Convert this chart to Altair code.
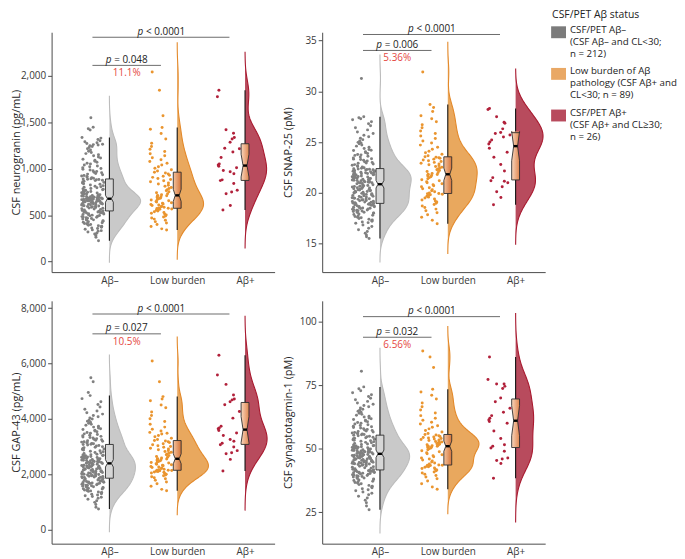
import math
import json
import numpy as np
import pandas as pd
import altair as alt

FONT = "Open Sans"
GROUPS = ["Aβ–", "Low burden", "Aβ+"]
POINT_COLORS = ["#808080", "#ea952f", "#b1203a"]
VIOLIN_FILLS = ["#c9c9c9", "#e9a85e", "#b84b5d"]
VIOLIN_LINES = ["#bcbcbc", "#e3892a", "#a8192f"]
BOX_FILLS = [["#d6d6d6", "#d6d6d6"], ["#f3c39e", "#d57439"], ["#f8d6bd", "#e08650"]]
PCT_COLOR = "#e5483f"
LEGEND_TITLE = "CSF/PET Aβ status"
LEGEND_LABELS = [
    "CSF/PET Aβ–\n(CSF Aβ– and CL<30;\nn = 212)",
    "Low burden of Aβ\npathology (CSF Aβ+ and\nCL<30; n = 89)",
    "CSF/PET Aβ+\n(CSF Aβ+ and CL≥30;\nn = 26)",
]
LEGEND_SWATCHES = ["#7b7b7b", "#e9a865", "#b84b5d"]

# ---------------- neurogranin (pg/mL) ----------------
NG_NEG = [225, 262, 281, 296, 305, 318, 326, 333, 341, 349, 356, 362, 369, 375, 381, 386, 392, 398, 404, 409,
          414, 419, 424, 429, 434, 439, 444, 449, 454, 459, 463, 467, 471, 476, 480, 484, 488, 492, 496, 500,
          504, 508, 512, 516, 519, 522, 525, 528, 531, 534, 537, 540, 543,
          546, 551, 556, 561, 566, 570, 574, 578, 582, 586, 590, 593, 596, 599, 602, 605, 608, 611, 614, 617,
          620, 622, 624, 626, 628, 630, 632, 634, 636, 638, 640, 642, 644, 646, 648, 650, 652, 654, 656, 658,
          660, 662, 663, 664, 665, 666, 667, 668, 669, 670, 672, 674, 676,
          678, 680, 682, 684, 686, 688, 690, 692, 694, 696, 698, 700, 703, 706, 709, 712, 715, 718, 721, 724,
          727, 730, 734, 738, 742, 746, 750, 754, 758, 763, 768, 773, 778, 783, 788, 794, 800, 806, 812, 818,
          825, 832, 839, 846, 853, 860, 866, 872, 877, 881, 884, 887, 889,
          893, 898, 904, 910, 916, 922, 928, 935, 942, 949, 956, 963, 971, 979, 987, 995, 1003, 1012, 1021, 1030,
          1040, 1050, 1060, 1070, 1081, 1092, 1103, 1115, 1127, 1139, 1151, 1163, 1176, 1189, 1202, 1215, 1228,
          1240, 1248, 1255, 1260, 1265, 1272, 1280, 1290, 1302, 1315, 1330, 1336, 1418, 1432, 1448, 1550]
NG_LOW = [339, 352, 378, 398, 415, 430, 444, 457, 469, 480, 491, 501, 511, 520, 529, 537, 545, 552, 558, 563, 567, 571,
          574,
          577, 584, 590, 597, 603, 609, 615, 621, 627, 634, 641, 648, 655, 662, 669, 676, 683, 690, 697, 704, 709,
          713,
          720, 731, 742, 753, 764, 775, 787, 799, 811, 823, 835, 847, 859, 871, 883, 895, 907, 919, 931, 943, 953,
          963,
          975, 990, 1005, 1022, 1040, 1058, 1078, 1098, 1118, 1140, 1162, 1186, 1210, 1240, 1275, 1320, 1380, 1425,
          1444, 1572, 1847, 2043]
NG_POS = [556, 603, 731, 749, 767, 840, 872, 880, 946, 967, 980, 1010, 1028, 1040, 1052, 1120, 1180, 1215, 1222,
          1285, 1320, 1337, 1383, 1420, 1775, 1847]

# ---------------- SNAP-25 (pM) ----------------
SN_NEG = [15.5, 15.68, 15.85, 16.02, 16.2, 16.36, 16.52, 16.68, 16.84, 17.0,
          17.07, 17.14, 17.2, 17.27, 17.34, 17.4, 17.47, 17.54, 17.6, 17.67, 17.73, 17.8, 17.86, 17.93, 18.0,
          18.03, 18.07, 18.1, 18.14, 18.17, 18.21, 18.24, 18.28, 18.31, 18.35, 18.38, 18.42, 18.45, 18.49, 18.52,
          18.56, 18.59, 18.63, 18.66, 18.7, 18.73, 18.77, 18.8, 18.84, 18.87, 18.9, 18.93, 18.95,
          18.97, 19.01, 19.04, 19.08, 19.11, 19.15, 19.18, 19.22, 19.25, 19.29, 19.32, 19.36, 19.39, 19.43, 19.46,
          19.5, 19.53, 19.57, 19.6, 19.64, 19.67, 19.71, 19.74, 19.78, 19.81, 19.85, 19.88, 19.92, 19.95, 19.99,
          20.02, 20.06, 20.09, 20.13, 20.16, 20.2, 20.23, 20.27, 20.3, 20.34, 20.37, 20.41, 20.44, 20.48, 20.51,
          20.55, 20.58, 20.62, 20.65, 20.69, 20.72, 20.76, 20.8,
          20.9, 20.93, 20.96, 20.99, 21.02, 21.05, 21.08, 21.1, 21.13, 21.16, 21.19, 21.22, 21.25, 21.27, 21.3,
          21.33, 21.36, 21.39, 21.42, 21.44, 21.47, 21.5, 21.53, 21.56, 21.59, 21.61, 21.64, 21.67, 21.7, 21.73,
          21.76, 21.78, 21.81, 21.84, 21.87, 21.9, 21.93, 21.95, 21.98, 22.01, 22.04, 22.07, 22.1, 22.12, 22.15,
          22.18, 22.21, 22.24, 22.27, 22.29, 22.32, 22.35, 22.38,
          22.42, 22.48, 22.54, 22.6, 22.66, 22.72, 22.78, 22.85, 22.92, 22.95, 22.99, 23.06, 23.13, 23.2, 23.28,
          23.32, 23.36, 23.44, 23.52, 23.6, 23.69, 23.74, 23.78, 23.87, 23.96, 24.06, 24.16, 24.2, 24.26, 24.37,
          24.48, 24.6, 24.72, 24.84, 24.9, 24.97, 25.1, 25.24, 25.38, 25.53, 25.68, 25.84, 26.0, 26.2, 26.4, 26.6,
          26.8, 27.0, 27.2, 27.3, 27.4, 27.5, 31.25]
SN_LOW = [16.95, 17.3, 17.6, 17.85, 18.05, 18.25, 18.4, 18.55, 18.7, 18.85, 18.98, 19.1, 19.2, 19.3, 19.4, 19.5,
          19.58, 19.66, 19.74, 19.81, 19.87, 19.92,
          19.94,
          20.0, 20.1, 20.2, 20.3, 20.4, 20.5, 20.6, 20.7, 20.8, 20.9, 21.0, 21.1, 21.2, 21.3, 21.4, 21.5, 21.58,
          21.65, 21.72, 21.77, 21.81,
          21.83,
          21.9, 22.0, 22.1, 22.2, 22.28, 22.36, 22.44, 22.52, 22.6, 22.68, 22.76, 22.84, 22.92, 23.0, 23.08, 23.16,
          23.24, 23.32, 23.4, 23.46, 23.51,
          23.55,
          23.65, 23.8, 23.95, 24.1, 24.3, 24.5, 24.7, 24.9, 25.1, 25.35, 25.6, 25.85, 26.1, 26.4, 26.7, 27.0, 27.3,
          27.6, 28.0, 28.4, 28.7, 31.9]
SN_POS = [18.83, 19.55, 20.1, 20.6, 21.0, 21.15, 21.2, 21.5, 22.15, 22.8, 23.5, 24.0, 24.4, 24.8, 25.0, 25.2,
          25.5, 25.7, 25.85, 25.95, 26.3, 26.85, 26.95, 27.5, 28.2, 28.3]

# ---------------- GAP-43 (pg/mL) ----------------
GA_NEG = [742, 800, 905, 980, 1040, 1090, 1130, 1165, 1195, 1222, 1248, 1272, 1295, 1317, 1338, 1358, 1377, 1395,
          1412, 1428, 1444, 1459, 1474, 1488, 1502, 1516, 1529, 1542, 1555, 1567, 1579, 1591, 1603, 1614, 1625,
          1636, 1647, 1658, 1668, 1678, 1688, 1698, 1708, 1718, 1728, 1738, 1748, 1758, 1768, 1788, 1808, 1828, 1848,
          1856, 1866, 1876, 1886, 1896, 1906, 1916, 1926, 1936, 1946, 1956, 1966, 1976, 1986, 1996, 2006, 2016,
          2026, 2036, 2046, 2056, 2066, 2076, 2086, 2096, 2106, 2116, 2126, 2136, 2146, 2156, 2166, 2176, 2186,
          2196, 2206, 2216, 2226, 2236, 2246, 2256, 2266, 2276, 2286, 2296, 2306, 2316, 2326, 2336, 2346, 2356,
          2370, 2385,
          2395, 2404, 2413, 2422, 2431, 2440, 2449, 2458, 2467, 2476, 2485, 2494, 2503, 2512, 2521, 2530, 2539,
          2548, 2557, 2566, 2575, 2584, 2593, 2602, 2611, 2620, 2629, 2638, 2647, 2656, 2665, 2674, 2683, 2692,
          2701, 2722, 2743, 2764, 2785, 2806, 2827, 2848, 2869, 2890, 2911, 2932, 2953, 2974, 2995, 3016, 3037,
          3054, 3071,
          3080, 3095, 3110, 3126, 3142, 3158, 3175, 3192, 3210, 3228, 3246, 3265, 3284, 3304, 3324, 3345, 3366,
          3388, 3410, 3433, 3456, 3480, 3505, 3530, 3556, 3583, 3611, 3640, 3670, 3700, 3732, 3765, 3800, 3836,
          3873, 3911, 3950, 3990, 4032, 4076, 4122, 4170, 4220, 4280, 4350, 4430, 4520, 4620, 4730, 4839, 4950,
          5340, 5484]
GA_LOW = [1398, 1450, 1560, 1650, 1720, 1780, 1830, 1870, 1905, 1940, 1970, 2000, 2025, 2045, 2065, 2080, 2095,
          2105, 2115, 2124, 2132, 2137,
          2140,
          2160, 2180, 2200, 2220, 2240, 2260, 2280, 2300, 2320, 2340, 2360, 2380, 2400, 2420, 2440, 2460, 2480,
          2500, 2520, 2535, 2548,
          2556,
          2580, 2610, 2640, 2670, 2700, 2730, 2760, 2790, 2820, 2850, 2880, 2910, 2940, 2970, 3000, 3030, 3060,
          3100, 3140, 3175, 3200,
          3215,
          3250, 3300, 3350, 3400, 3450, 3480, 3510, 3560, 3620, 3700, 3800, 3900, 4000, 4120, 4250, 4400, 4500,
          4650, 4720, 4803, 5341, 6093]
GA_POS = [2115, 2534, 2735, 2771, 2850, 2980, 3060, 3120, 3190, 3250, 3400, 3488, 3580, 3640, 3668, 3728, 4025,
          4265, 4505, 4620, 4685, 4720, 4863, 5245, 5581, 6297]

# ---------------- synaptotagmin-1 (pM) ----------------
SY_NEG = [26.0, 27.5, 28.8, 29.8, 30.6, 31.3, 31.9, 32.5, 33.0, 33.5, 33.9, 34.3, 34.7, 35.0, 35.3, 35.6, 35.9,
          36.2, 36.5, 36.75, 37.0, 37.25, 37.5, 37.7, 37.9, 38.1, 38.3, 38.5, 38.7, 38.9, 39.05, 39.2, 39.35, 39.5,
          39.65, 39.8, 39.95, 40.1, 40.25, 40.4, 40.5, 40.6, 40.7, 40.8, 40.9, 41.0, 41.1, 41.2, 41.3, 41.38,
          41.45, 41.52, 41.58,
          41.7, 41.9, 42.1, 42.3, 42.5, 42.7, 42.9, 43.1, 43.3, 43.5,
          43.7, 43.8, 43.9, 44.0, 44.1, 44.2, 44.3, 44.4, 44.5, 44.6, 44.7, 44.8, 44.9, 45.0, 45.1, 45.2, 45.3,
          45.4, 45.5, 45.6, 45.7, 45.8, 45.9, 46.0, 46.1, 46.2, 46.3, 46.4, 46.5, 46.6, 46.7, 46.8, 46.9, 47.0,
          47.1, 47.2, 47.3, 47.4, 47.5, 47.6, 47.7, 47.8, 47.9,
          48.1, 48.2, 48.3, 48.4, 48.5, 48.6, 48.7, 48.8, 48.9, 49.0, 49.1, 49.2, 49.3, 49.4, 49.5, 49.6, 49.7,
          49.8, 49.9, 50.0, 50.1, 50.2, 50.3, 50.4, 50.5, 50.6, 50.7, 50.8, 50.9, 51.0, 51.1, 51.2, 51.3,
          51.5, 51.7, 51.9, 52.1, 52.3, 52.5, 52.7, 52.9, 53.1, 53.3, 53.5, 53.7, 53.9, 54.1, 54.3, 54.5, 54.7,
          54.9, 55.1, 55.3,
          55.45, 55.6, 55.75, 55.9, 56.05, 56.2, 56.4, 56.6, 56.8, 57.0, 57.2, 57.4, 57.6, 57.85, 58.1, 58.35,
          58.6, 58.85, 59.1, 59.4, 59.7, 60.0, 60.3, 60.6, 60.9, 61.2, 61.5, 61.8, 62.1, 62.45, 62.8, 63.15, 63.5,
          63.9, 64.3, 64.7, 65.1, 65.5, 66.0, 66.5, 67.0, 67.5, 68.0, 68.6, 69.2, 69.8, 70.5, 71.2, 72.0, 72.8,
          73.6, 74.3, 80.4]
SY_LOW = [34.1, 35.0, 36.2, 37.3, 38.2, 38.9, 39.5, 40.0, 40.5, 40.9, 41.3, 41.6, 41.9, 42.2, 42.45, 42.7, 42.9,
          43.1, 43.25, 43.38, 43.48, 43.55,
          43.6,
          44.0, 44.4, 44.8, 45.2, 45.6, 46.0, 46.4, 46.8, 47.2, 47.6, 48.0, 48.4, 48.8, 49.2, 49.6, 49.95, 50.25,
          50.5, 50.7, 50.85, 50.95,
          51.0,
          51.2, 51.4, 51.6, 51.8, 52.0, 52.2, 52.4, 52.6, 52.8, 53.0, 53.2, 53.4, 53.6, 53.8, 54.0, 54.2, 54.4,
          54.6, 54.8, 55.1, 55.4,
          55.6,
          56.0, 56.6, 57.2, 57.8, 58.4, 59.0, 59.7, 60.4, 61.2, 62.0, 63.0, 64.0, 65.2, 66.5, 68.0, 69.5, 71.0,
          72.3, 73.4, 81.9, 86.0, 88.4]
SY_POS = [38.4, 44.2, 45.4, 46.0, 46.4, 49.0, 50.3, 51.0, 51.6, 54.0, 57.0, 60.0, 60.7, 61.3, 62.0, 63.0, 64.3,
          65.9, 68.5, 69.9, 73.7, 74.5, 75.4, 75.4, 77.2, 86.0]

PANELS = [
    dict(title="CSF neurogranin (pg/mL)", data=[NG_NEG, NG_LOW, NG_POS], domain=[-114, 2471],
         ticks=[0, 500, 1000, 1500, 2000], height=242, title_x=-30,
         brackets=[(2417, "< 0.0001", ""), (2114, "= 0.048", "11.1%")]),
    dict(title="CSF SNAP-25 (pM)", data=[SN_NEG, SN_LOW, SN_POS], domain=[12.2, 35.81],
         ticks=[15, 20, 25, 30, 35], height=242, title_x=-29,
         brackets=[(35.59, "< 0.0001", ""), (34.02, "= 0.006", "5.36%")]),
    dict(title="CSF GAP-43 (pg/mL)", data=[GA_NEG, GA_LOW, GA_POS], domain=[-513, 8265],
         ticks=[0, 2000, 4000, 6000, 8000], height=245, title_x=-30,
         brackets=[(7789, "< 0.0001", ""), (7072, "= 0.027", "10.5%")]),
    dict(title="CSF synaptotagmin-1 (pM)", data=[SY_NEG, SY_LOW, SY_POS], domain=[12.7, 108.1],
         ticks=[25, 50, 75, 100], height=245, title_x=-29,
         brackets=[(101.9, "< 0.0001", ""), (93.8, "= 0.032", "6.56%")]),
]

PANEL_W = 225
X_DOMAIN = [0.148, 3.436]
PX_PER_UNIT = PANEL_W / (X_DOMAIN[1] - X_DOMAIN[0])
VIOLIN_MAX = 0.46
BOX_HALF = 0.058
BRACKET_START = 0.75
BRACKET_ENDS = [2.77, 1.76]
LABEL_EXPR = json.dumps([""] + GROUPS, ensure_ascii=False) + "[datum.value]"
JITTER_EXPR = "datum.pos - 0.08 - 0.33 * ((abs(sin(datum.rn * 78.233 + datum.pos)) * 43758.5453) % 1)"
AXIS_GRAY = "#4a4a4a"
LEGEND_X = PANEL_W + 6      # legend sits to the right of the top-right panel
LEGEND_STEP = 42


def kde(vals):
    x = np.asarray(vals, dtype=float)
    n = len(x)
    q1, q3 = np.percentile(x, [25, 75])
    bw = 0.9 * min(x.std(ddof=1), (q3 - q1) / 1.34) * n ** -0.2
    grid = np.linspace(x.min() - 3 * bw, x.max() + 3 * bw, 220)
    d = np.exp(-0.5 * ((grid[:, None] - x[None, :]) / bw) ** 2).sum(axis=1) / (n * bw * math.sqrt(2 * math.pi))
    return grid, d


def box_stats(vals):
    x = np.asarray(vals, dtype=float)
    q1, med, q3 = np.percentile(x, [25, 50, 75])
    iqr = q3 - q1
    lo = x[x >= q1 - 1.5 * iqr].min()
    hi = x[x <= q3 + 1.5 * iqr].max()
    notch = 1.58 * iqr / math.sqrt(len(x))
    return q1, med, q3, lo, hi, notch


def legend_layers():
    out = []
    for i, (lab, col) in enumerate(zip(LEGEND_LABELS, LEGEND_SWATCHES)):
        ys = -6 + i * LEGEND_STEP
        d = pd.DataFrame({"label": [lab]})
        out.append(alt.Chart(d).mark_rect(color=col).encode(
            x=alt.value(LEGEND_X), x2=alt.value(LEGEND_X + 15), y=alt.value(ys), y2=alt.value(ys + 12)))
        out.append(alt.Chart(d).mark_text(font=FONT, fontSize=9.8, align="left", baseline="top", lineBreak="\n",
                                          lineHeight=12, color="#222222").encode(
            x=alt.value(LEGEND_X + 19), y=alt.value(ys - 1.5), text="label:N"))
    out.append(alt.Chart(pd.DataFrame({"t": [LEGEND_TITLE]})).mark_text(
        font=FONT, fontSize=10.5, align="left", baseline="middle", color="#222222").encode(
        x=alt.value(LEGEND_X + 1), y=alt.value(-17), text="t:N"))
    return out


def make_panel(cfg, with_legend=False):
    h = cfg["height"]
    xs = alt.Scale(domain=X_DOMAIN, nice=False, zero=False)
    ys = alt.Scale(domain=cfg["domain"], nice=False, zero=False)
    xaxis = alt.Axis(values=[1, 2, 3], labelExpr=LABEL_EXPR, ticks=False, title=None, labelPadding=3)
    yaxis = alt.Axis(values=cfg["ticks"], format=",.0f", title=cfg["title"], titleX=cfg["title_x"],
                     titleY=h / 2, titleBaseline="bottom", tickSize=4, labelPadding=2)

    def X(f):
        return alt.X(f, type="quantitative", scale=xs, axis=xaxis, title=None)

    def Y(f):
        return alt.Y(f, type="quantitative", scale=ys, axis=yaxis, title=cfg["title"])

    dens = [kde(v) for v in cfg["data"]]
    kmax = max(d.max() for _, d in dens)
    layers = []
    for gi, vals in enumerate(cfg["data"]):
        pos = gi + 1
        grid, d = dens[gi]
        vdf = pd.DataFrame({"v": grid, "x0": float(pos), "x1": pos + d / kmax * VIOLIN_MAX})
        layers.append(alt.Chart(vdf).mark_area(orient="horizontal", color=VIOLIN_FILLS[gi], opacity=1).encode(
            y=Y("v"), x=X("x0"), x2="x1:Q"))
        layers.append(alt.Chart(vdf).mark_line(color=VIOLIN_LINES[gi], strokeWidth=1.1).encode(
            y=Y("v"), x=X("x1"), order=alt.Order("v:Q")))
    for gi, vals in enumerate(cfg["data"]):
        pos = gi + 1
        pdf = pd.DataFrame({"v": vals, "pos": float(pos)})
        layers.append(alt.Chart(pdf).transform_window(rn="row_number()").transform_calculate(
            jx=JITTER_EXPR
        ).mark_circle(size=9, opacity=1, color=POINT_COLORS[gi]).encode(x=X("jx"), y=Y("v")))
    for gi, vals in enumerate(cfg["data"]):
        pos = gi + 1
        q1, med, q3, lo, hi, notch = box_stats(vals)
        sdf = pd.DataFrame({"pos": [float(pos)], "lo": [lo], "hi": [hi], "med": [med],
                            "ml": [pos - BOX_HALF / 2], "mr": [pos + BOX_HALF / 2]})
        layers.append(alt.Chart(sdf).mark_rule(color="#111111", strokeWidth=1.1).encode(
            x=X("pos"), y=Y("lo"), y2="hi:Q"))
        xl, xr, xil, xir = pos - BOX_HALF, pos + BOX_HALF, pos - BOX_HALF / 2, pos + BOX_HALF / 2
        nl, nu = med - notch, med + notch
        fdf = pd.DataFrame({
            "y": [q1, nl, med, nu, q3],
            "xl": [xl, xl, xil, xl, xl],
            "xr": [xr, xr, xir, xr, xr],
        })
        odf = pd.DataFrame({
            "o": list(range(11)),
            "py": [q3, nu, med, nl, q1, q1, nl, med, nu, q3, q3],
            "px": [xl, xl, xil, xl, xl, xr, xr, xir, xr, xr, xl],
        })
        c0, c1 = BOX_FILLS[gi]
        fill = alt.LinearGradient(gradient="linear", x1=0, x2=1, y1=0, y2=0,
                                  stops=[alt.GradientStop(color=c0, offset=0),
                                         alt.GradientStop(color=c1, offset=1)])
        layers.append(alt.Chart(fdf).mark_area(orient="horizontal", fill=fill, fillOpacity=1).encode(
            y=Y("y"), x=X("xl"), x2="xr:Q"))
        layers.append(alt.Chart(odf).mark_line(color="#2e2e2e", strokeWidth=0.9).encode(
            y=Y("py"), x=X("px"), order=alt.Order("o:Q")))
        layers.append(alt.Chart(sdf).mark_rule(color="#000000", strokeWidth=2.4).encode(
            x=X("ml"), x2="mr:Q", y=Y("med")))
    br = pd.DataFrame({
        "x1": [BRACKET_START, BRACKET_START],
        "x2": BRACKET_ENDS,
        "y": [b[0] for b in cfg["brackets"]],
        "rest": [b[1] for b in cfg["brackets"]],
        "pct": [b[2] for b in cfg["brackets"]],
    })
    base = alt.Chart(br).transform_calculate(
        cx="(datum.x1 + datum.x2) / 2",
        px=f"(datum.x1 + datum.x2) / 2 - (length(datum.rest) * 4.9 - 3.5) / 2 / {PX_PER_UNIT}")
    layers.append(base.mark_rule(color="#6b6b6b", strokeWidth=1).encode(x=X("x1"), x2="x2:Q", y=Y("y")))
    layers.append(base.mark_text(font=FONT, fontSize=10, fontStyle="italic", align="right",
                                 baseline="alphabetic", dy=-2.5, color="#222222").encode(
        x=X("px"), y=Y("y"), text=alt.value("p")))
    layers.append(base.mark_text(font=FONT, fontSize=10, align="left", baseline="alphabetic", dy=-2.5,
                                 dx=2.8, color="#222222").encode(x=X("px"), y=Y("y"), text="rest:N"))
    layers.append(base.transform_filter("datum.pct != ''").mark_text(
        font=FONT, fontSize=10, align="center", baseline="middle", dy=8, color=PCT_COLOR).encode(
        x=X("cx"), y=Y("y"), text="pct:N"))
    if with_legend:
        layers.extend(legend_layers())
    return alt.layer(*layers).properties(width=PANEL_W, height=h)


panels = [make_panel(c, with_legend=(k == 1)) for k, c in enumerate(PANELS)]
chart = alt.concat(*panels, columns=2, spacing={"row": 16, "column": 8}).properties(
    padding={"left": 3, "top": 0, "right": 0, "bottom": 0}
).configure_view(stroke=None).configure_axis(
    labelFont=FONT, titleFont=FONT, labelFontSize=10, titleFontSize=11, labelColor="#3a3a3a",
    titleColor="#262626", titleFontWeight="normal", domainColor=AXIS_GRAY, tickColor=AXIS_GRAY,
    grid=False, domainWidth=1, tickWidth=1)

chart.save("out.html", embed_options={"renderer": "svg", "actions": False})
